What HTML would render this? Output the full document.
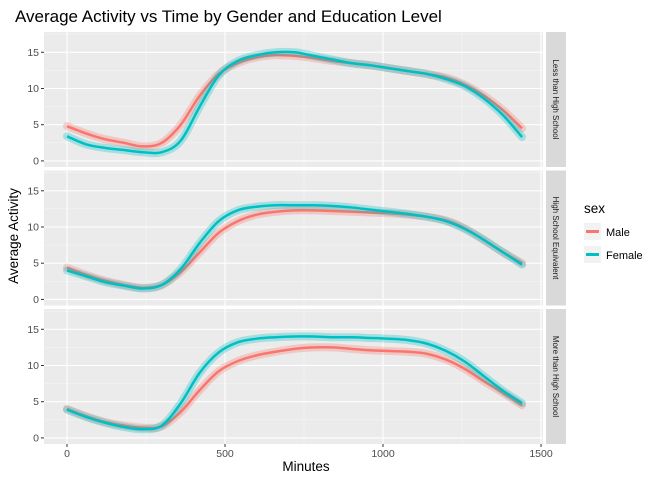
<!DOCTYPE html>
<html><head><meta charset="utf-8"><style>
body{margin:0;background:#fff;font-family:"Liberation Sans",Arial,sans-serif}
svg text{font-family:"Liberation Sans",Arial,sans-serif}
</style></head><body>
<svg id="c" width="672" height="480" xmlns="http://www.w3.org/2000/svg">
<text x="15" y="22" font-size="17" fill="#000">Average Activity vs Time by Gender and Education Level</text>
<text x="306" y="471" font-size="13.5" text-anchor="middle">Minutes</text>
<text transform="translate(18,236) rotate(-90)" font-size="13.5" text-anchor="middle">Average Activity</text>
<g>
<text x="584" y="213" font-size="13.5">sex</text>
<rect x="584" y="223" width="17" height="17" fill="#f2f2f2"/>
<line x1="586" y1="231.5" x2="599" y2="231.5" stroke="#F8766D" stroke-width="3"/>
<text x="606" y="236" font-size="11">Male</text>
<rect x="584" y="246" width="17" height="17" fill="#f2f2f2"/>
<line x1="586" y1="254.5" x2="599" y2="254.5" stroke="#00BFC4" stroke-width="3"/>
<text x="606" y="259" font-size="11">Female</text>
</g>
</svg>
<script>
const minutes=[0,60,120,180,240,300,360,420,480,540,600,660,720,780,840,900,960,1020,1080,1140,1200,1260,1320,1380,1440];
const facets=["Less than High School","High School Equivalent","More than High School"];
const male1=[4.8,3.8,3.0,2.5,2.0,2.5,5,9,12,13.5,14.3,14.6,14.5,14.2,13.8,13.5,13.2,12.8,12.4,12,11.5,10.5,9,7,4.5];
const female1=[3.4,2.3,1.8,1.5,1.2,1.2,2.8,7.5,11.8,13.8,14.6,15.0,15.0,14.5,14.0,13.5,13.2,12.8,12.4,12,11.3,10.3,8.6,6.3,3.3];
const male2=[4.4,3.4,2.6,2.0,1.6,2.0,3.8,6.5,9.2,10.8,11.7,12.1,12.3,12.3,12.2,12.1,12,11.9,11.7,11.4,10.9,9.8,8.2,6.5,5.0];
const female2=[4.0,3.2,2.4,1.9,1.5,2.0,4.2,7.8,10.8,12.3,12.8,13,13,13,12.9,12.7,12.4,12.1,11.8,11.4,10.8,9.7,8.2,6.5,4.8];
const male3=[4.0,3.0,2.2,1.7,1.4,1.6,3.6,6.6,9.2,10.6,11.4,11.9,12.3,12.5,12.5,12.3,12.1,12,11.9,11.6,10.8,9.5,7.8,6.2,4.5];
const female3=[3.9,2.9,2.1,1.5,1.2,1.7,4.8,9.0,11.8,13.2,13.7,13.9,14,14,13.9,13.9,13.8,13.7,13.5,13,12,10.5,8.5,6.5,4.8];
const xTicks=[0,500,1000,1500];
const yTicks=[0,5,10,15];
const series=[[male1,female1],[male2,female2],[male3,female3]];
const NS="http://www.w3.org/2000/svg",svg=document.getElementById('c');
const L=44,R=543,H=135,G=3.5,T0=32;
const xs=v=>67+0.316*v;
const ysF=(i)=>v=>T0+i*(H+G)+H-(v+0.84)/(17.8+0.84)*H;
function mk(t,a){const e=document.createElementNS(NS,t);for(const k in a)e.setAttribute(k,a[k]);svg.appendChild(e);return e;}
function path(px,py){let d="M"+px[0]+","+py[0];for(let i=0;i<px.length-1;i++){const p0=i?i-1:i,p3=i+2<px.length?i+2:i+1;
d+=" C"+(px[i]+(px[i+1]-px[p0])/6)+","+(py[i]+(py[i+1]-py[p0])/6)+" "+(px[i+1]-(px[p3]-px[i])/6)+","+(py[i+1]-(py[p3]-py[i])/6)+" "+px[i+1]+","+py[i+1];}return d;}
const cols=["#F8766D","#00BFC4"];
facets.forEach((f,i)=>{
 const ys=ysF(i),top=T0+i*(H+G);
 const bg=mk('rect',{x:L,y:top,width:R-L,height:H,fill:'#ebebeb'});
 
 
 [2.5,7.5,12.5,17.5].forEach(v=>mk('line',{x1:L,x2:R,y1:ys(v),y2:ys(v),stroke:'#f7f7f7','stroke-width':0.5}));
 [250,750,1250].forEach(v=>mk('line',{x1:xs(v),x2:xs(v),y1:top,y2:top+H,stroke:'#f7f7f7','stroke-width':0.5}));
 yTicks.forEach(v=>{mk('line',{x1:L,x2:R,y1:ys(v),y2:ys(v),stroke:'#fff','stroke-width':1.1});
  mk('line',{x1:L-3,x2:L,y1:ys(v),y2:ys(v),stroke:'#333'});
  const t=mk('text',{x:L-5,y:ys(v)+3.5,'font-size':10.5,'text-anchor':'end',fill:'#4d4d4d'});t.textContent=v;
  
  });
 xTicks.forEach(v=>mk('line',{x1:xs(v),x2:xs(v),y1:top,y2:top+H,stroke:'#fff','stroke-width':1.1}));
 const st=mk('rect',{x:R+3,y:top,width:20,height:H,fill:'#d9d9d9'});
 
 
 const s=mk('text',{transform:`translate(${R+10},${top+H/2}) rotate(90)`,'font-size':8,'text-anchor':'middle',fill:'#1a1a1a'});s.textContent=f;
 
 
 series[i].forEach((vals,k)=>{
  const px=minutes.map(xs),py=vals.map(ys);
  const band=mk('path',{d:path(px,py),fill:'none',stroke:cols[k],'stroke-width':8,'stroke-opacity':0.3,'stroke-linecap':'round'});
  
  
  const ln=mk('path',{d:path(px,py),fill:'none',stroke:cols[k],'stroke-width':2.5});
  
  
 });
 if(i==2){xTicks.forEach(v=>{mk('line',{x1:xs(v),x2:xs(v),y1:top+H,y2:top+H+3,stroke:'#333'});
  const t=mk('text',{x:xs(v),y:top+H+13,'font-size':10.5,'text-anchor':'middle',fill:'#4d4d4d'});t.textContent=v;
  
  });}
});
</script>
</body></html>
